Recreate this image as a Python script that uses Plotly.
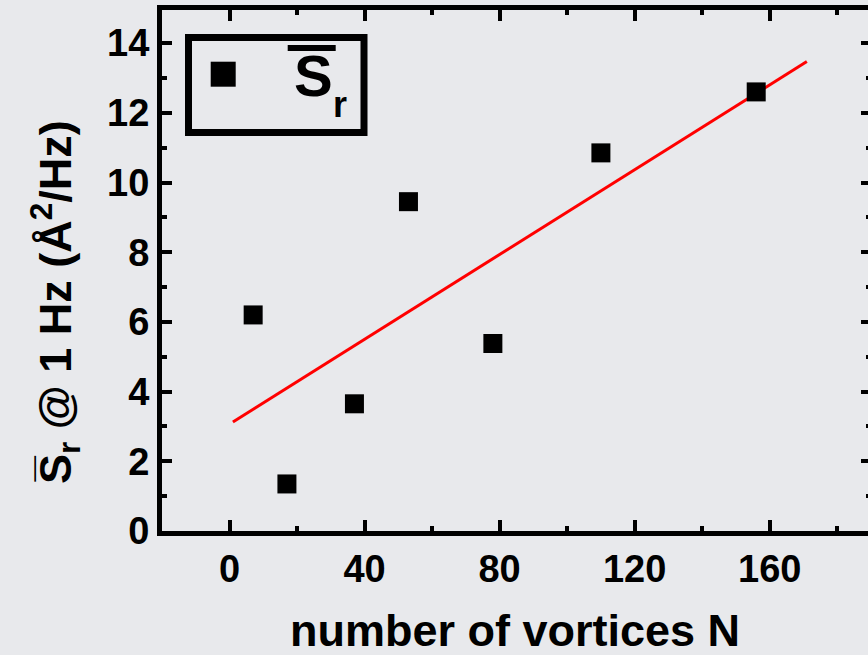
import plotly.graph_objects as go

# data
n_vortices = [7, 17, 37, 53, 78, 110, 156]
s_r = [6.2, 1.35, 3.65, 9.45, 5.38, 10.85, 12.6]
fit_x = [1, 171]
fit_y = [3.13, 13.47]
x_ticks = [0, 40, 80, 120, 160]
y_ticks = [0, 2, 4, 6, 8, 10, 12, 14]

FONT = "Liberation Sans, Arial, sans-serif"
BG = "#e8e9ec"

W, H = 876, 655
L, R, T, B = 162, 5, 10, 124
PW, PH = W - L - R, H - T - B


def px(x):
    return (x - L) / PW


def py(y):
    return (H - B - y) / PH


fig = go.Figure()
fig.add_trace(go.Scatter(x=fit_x, y=fit_y, mode="lines",
                         line=dict(color="#ff0000", width=3), showlegend=False))
fig.add_trace(go.Scatter(x=n_vortices, y=s_r, mode="markers",
                         marker=dict(symbol="square", size=19, color="black"),
                         showlegend=False))

axis_common = dict(showline=True, linewidth=5, linecolor="black", mirror="ticks",
                   ticks="inside", tickwidth=4, tickcolor="black", showgrid=False,
                   zeroline=False, automargin=False,
                   tickfont=dict(family=FONT, size=38, color="black", weight="bold"))

fig.update_xaxes(range=[-20, 190], tickvals=x_ticks, ticklen=11,
                 minor=dict(ticks="inside", dtick=20, tick0=0, ticklen=5, tickwidth=4,
                            tickcolor="black", showgrid=False),
                 **axis_common)
fig.update_yaxes(range=[0, 14.95], tickvals=y_ticks, ticklen=10,
                 minor=dict(ticks="inside", dtick=1, tick0=0, ticklen=5, tickwidth=4,
                            tickcolor="black", showgrid=False),
                 **axis_common)

# axis titles
fig.add_annotation(xref="paper", yref="paper", x=px(515), y=py(630), showarrow=False,
                   xanchor="center", yanchor="middle",
                   text="<b>number of vortices N</b>",
                   font=dict(family=FONT, size=45, color="black"))
fig.add_annotation(xref="paper", yref="paper", x=px(55), y=py(302), showarrow=False,
                   xanchor="center", yanchor="middle", textangle=-90,
                   text="<b>S\u0305<sub>r</sub> @ 1 Hz (Å<sup>2</sup>/Hz)</b>",
                   font=dict(family=FONT, size=45, color="black"))

# legend box drawn manually
fig.add_shape(type="rect", xref="paper", yref="paper", x0=px(188.5), x1=px(364),
              y0=py(132.5), y1=py(37.5), line=dict(color="black", width=7))
fig.add_shape(type="rect", xref="paper", yref="paper", x0=px(210.7), x1=px(235.7),
              y0=py(86.7), y1=py(61.7), line=dict(width=0), fillcolor="black")
fig.add_shape(type="line", xref="paper", yref="paper", x0=px(287.7), x1=px(335.7),
              y0=py(48), y1=py(48), line=dict(color="black", width=6))
fig.add_annotation(xref="paper", yref="paper", x=px(313), y=py(76), showarrow=False,
                   xanchor="center", yanchor="middle", text="<b>S</b>",
                   font=dict(family=FONT, size=58, color="black"))
fig.add_annotation(xref="paper", yref="paper", x=px(340), y=py(104), showarrow=False,
                   xanchor="center", yanchor="middle", text="<b>r</b>",
                   font=dict(family=FONT, size=36, color="black"))

fig.update_layout(width=W, height=H, margin=dict(l=L, r=R, t=T, b=B),
                  plot_bgcolor=BG, paper_bgcolor=BG,
                  font=dict(family=FONT, color="black"))

fig.write_html("out.html", config={"displayModeBar": False}, post_script=(
    "document.body.style.margin='0';"
    "document.body.style.overflow='hidden';"
    f"document.body.style.background='{BG}';"))
